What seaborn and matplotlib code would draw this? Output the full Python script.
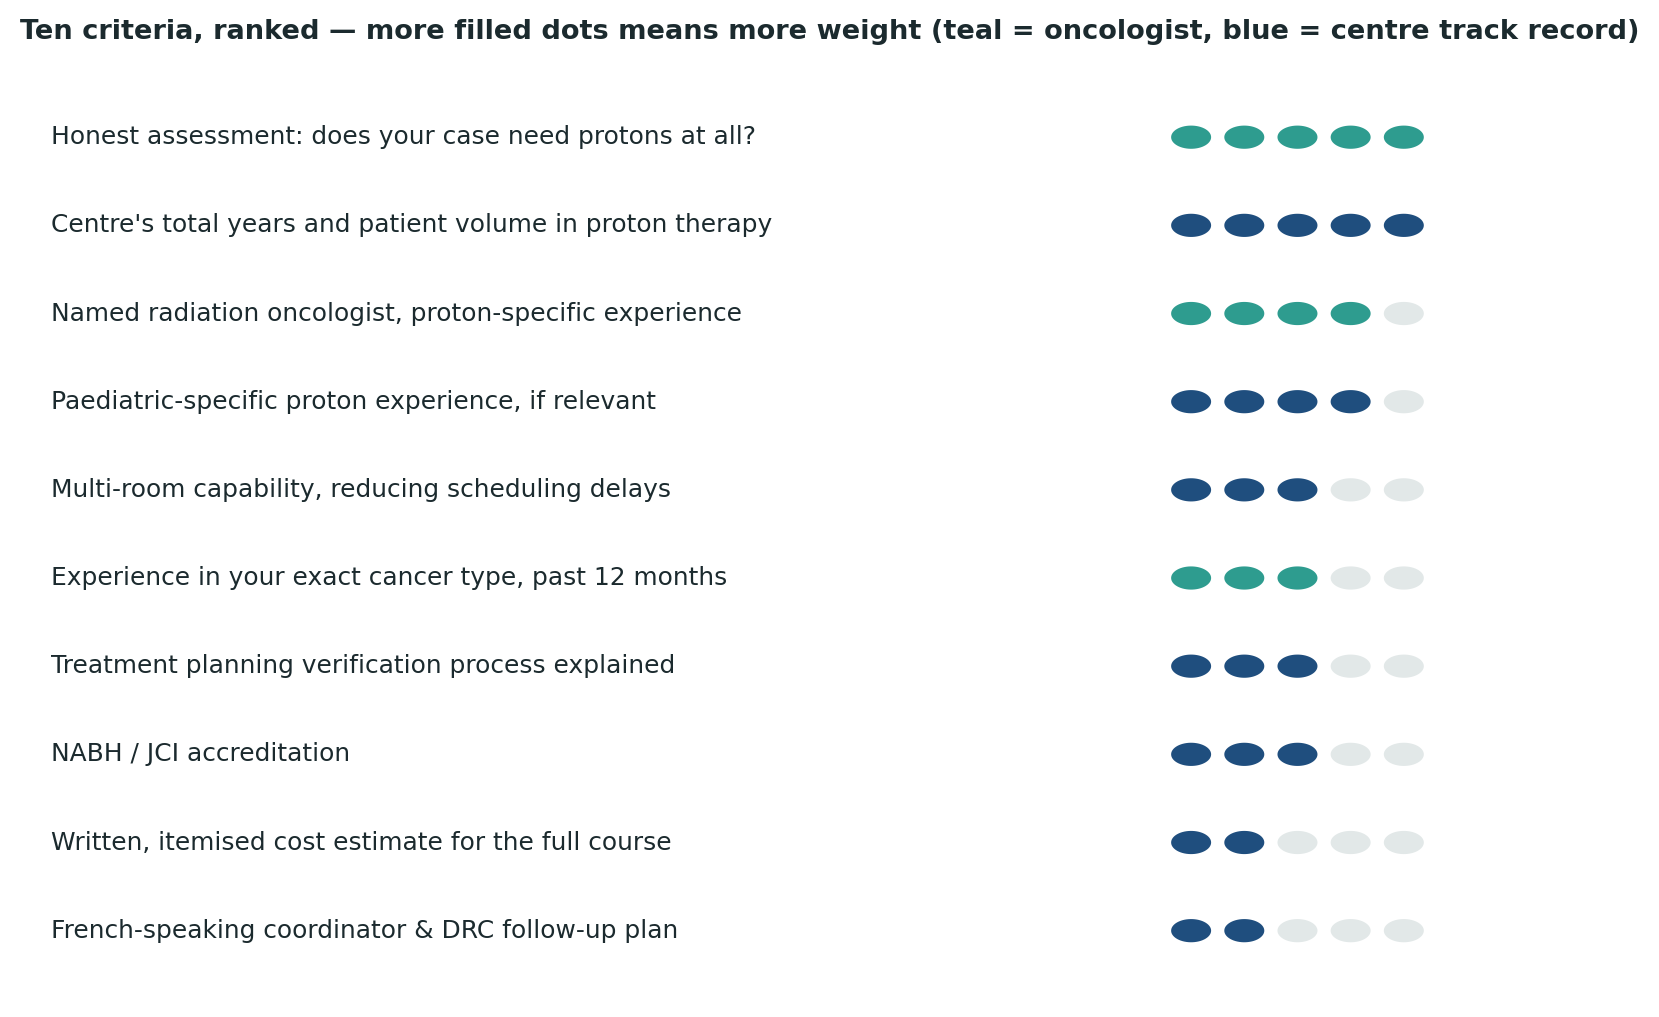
import numpy as np
import pandas as pd
import matplotlib
matplotlib.use("Agg")
import matplotlib.pyplot as plt
import matplotlib.path as mpath
import seaborn as sns

criteria = [
    "Honest assessment: does your case need protons at all?",
    "Centre's total years and patient volume in proton therapy",
    "Named radiation oncologist, proton-specific experience",
    "Paediatric-specific proton experience, if relevant",
    "Multi-room capability, reducing scheduling delays",
    "Experience in your exact cancer type, past 12 months",
    "Treatment planning verification process explained",
    "NABH / JCI accreditation",
    "Written, itemised cost estimate for the full course",
    "French-speaking coordinator & DRC follow-up plan",
]
scores = [5, 5, 4, 4, 3, 3, 3, 3, 2, 2]
kind = ["oncologist", "centre", "oncologist", "centre", "centre",
        "oncologist", "centre", "centre", "centre", "centre"]
max_dots = 5

colors = {"oncologist": "#2e9c8f", "centre": "#1f4e7e", "empty": "#e2e8e8"}
text_color = "#1b2a2e"

rows = []
for i, (c, s, k) in enumerate(zip(criteria, scores, kind)):
    for d in range(max_dots):
        rows.append({"row": i, "dot": d, "state": k if d < s else "empty"})
df = pd.DataFrame(rows)

sns.set_theme(style="white")
plt.rcParams['font.family'] = ['DejaVu Sans']

fig = plt.figure(figsize=(16.59, 10.17), dpi=100)
ax = fig.add_axes([0, 0, 1, 1])
k = 1.0635
x0px, dxpx = 1120 * k, 50 * k
y0px, dypx = 129 * k, 82.9 * k
W, H = 1659, 1017
ax.set_xlim((0 - x0px) / dxpx, (W - x0px) / dxpx)
ax.set_ylim((H - y0px) / dypx, (0 - y0px) / dypx)
ax.axis("off")

t = np.linspace(0, 2 * np.pi, 60)
verts = np.column_stack([np.cos(t), 0.58 * np.sin(t)])
ellipse = mpath.Path(verts)

sns.scatterplot(data=df, x="dot", y="row", hue="state", palette=colors,
                marker=ellipse, s=830, linewidth=0, legend=False, ax=ax)

label_x = (48 * k - x0px) / dxpx
for i, c in enumerate(criteria):
    ax.text(label_x, i, c, ha="left", va="center", fontsize=17.9, color=text_color)

fig.text(19 * k / W, 1 - 30 * k / H,
         "Ten criteria, ranked — more filled dots means more weight (teal = oncologist, blue = centre track record)",
         ha="left", va="center", fontsize=19.6, fontweight="bold", color=text_color)

fig.savefig("out.png", dpi=100, facecolor="white")
